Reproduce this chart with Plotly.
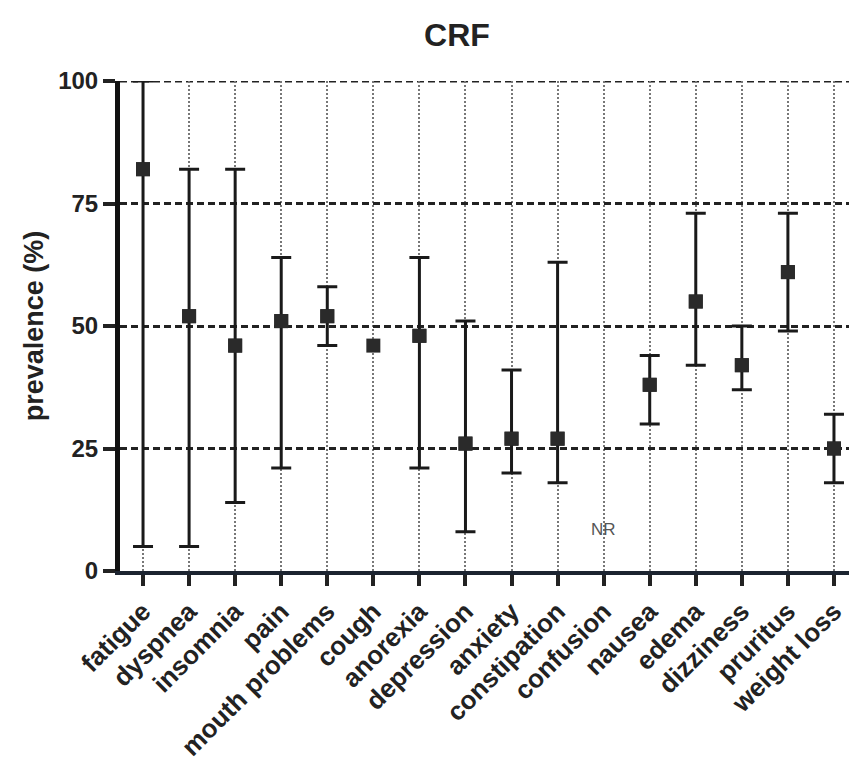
import plotly.graph_objects as go

categories = ["fatigue", "dyspnea", "insomnia", "pain", "mouth problems", "cough",
              "anorexia", "depression", "anxiety", "constipation", "confusion",
              "nausea", "edema", "dizziness", "pruritus", "weight loss"]
prevalence = [82, 52, 46, 51, 52, 46, 48, 26, 27, 27, None, 38, 55, 42, 61, 25]
upper = [100, 82, 82, 64, 58, None, 64, 51, 41, 63, None, 44, 73, 50, 73, 32]
lower = [5, 5, 14, 21, 46, None, 21, 8, 20, 18, None, 30, 42, 37, 49, 18]
y_ticks = [0, 25, 50, 75, 100]

# points that have a reported range
idx = [i for i in range(len(categories)) if upper[i] is not None and prevalence[i] is not None]
ex = [categories[i] for i in idx]
ey = [prevalence[i] for i in idx]
plus = [upper[i] - prevalence[i] for i in idx]
minus = [prevalence[i] - lower[i] for i in idx]

FONT = "Liberation Sans, Arial, sans-serif"
MARK = dict(symbol="square", size=14, color="#2a2a2a")

fig = go.Figure()
fig.add_trace(go.Scatter(
    x=categories, y=prevalence, mode="markers", marker=MARK,
    showlegend=False, cliponaxis=False,
))
fig.add_trace(go.Scatter(
    x=ex, y=ey, mode="markers", marker=MARK,
    error_y=dict(type="data", symmetric=False, array=plus, arrayminus=minus,
                 color="#1a1a1a", thickness=3, width=10),
    showlegend=False, cliponaxis=False,
))

fig.add_annotation(x="confusion", y=8.5, text="NR", showarrow=False,
                   font=dict(family=FONT, size=17, color="#555"))

# dashed line at the top tick (plotly hides the edge gridline)
fig.add_shape(type="line", xref="paper", x0=0, x1=1, yref="y", y0=y_ticks[-1], y1=y_ticks[-1],
              line=dict(color="#222", width=3, dash="7px,4px"), layer="below")

W, H = 849, 753
fig.update_layout(
    width=W, height=H,
    margin=dict(l=112, r=0, t=73, b=190, autoexpand=False),
    paper_bgcolor="white", plot_bgcolor="white",
    title=dict(text="CRF", x=449 / W, xanchor="center", y=1 - 27 / H, yanchor="middle",
               font=dict(family=FONT, size=32, color="#222", weight="bold")),
    xaxis=dict(
        range=[-0.5, 15.5], tickangle=-45, automargin=False,
        categoryorder="array", categoryarray=categories,
        tickfont=dict(family=FONT, size=26, color="#222", weight="bold"),
        showline=True, linecolor="#1c2430", linewidth=4,
        ticks="outside", ticklen=11, tickwidth=4, tickcolor="#222",
        showgrid=True, gridcolor="#777", gridwidth=1.5, griddash="2px,2px",
        zeroline=False,
    ),
    yaxis=dict(
        range=[0, 100], tickvals=y_ticks, automargin=False,
        tickfont=dict(family=FONT, size=24, color="#222", weight="bold"),
        showline=True, linecolor="#111", linewidth=5,
        ticks="outside", ticklen=12, tickwidth=4, tickcolor="#222",
        showgrid=True, gridcolor="#222", gridwidth=3, griddash="7px,4px",
        zeroline=False,
        title=dict(text="prevalence (%)", standoff=8,
                   font=dict(family=FONT, size=27, color="#222", weight="bold")),
    ),
)

fig.write_html("out.html")
